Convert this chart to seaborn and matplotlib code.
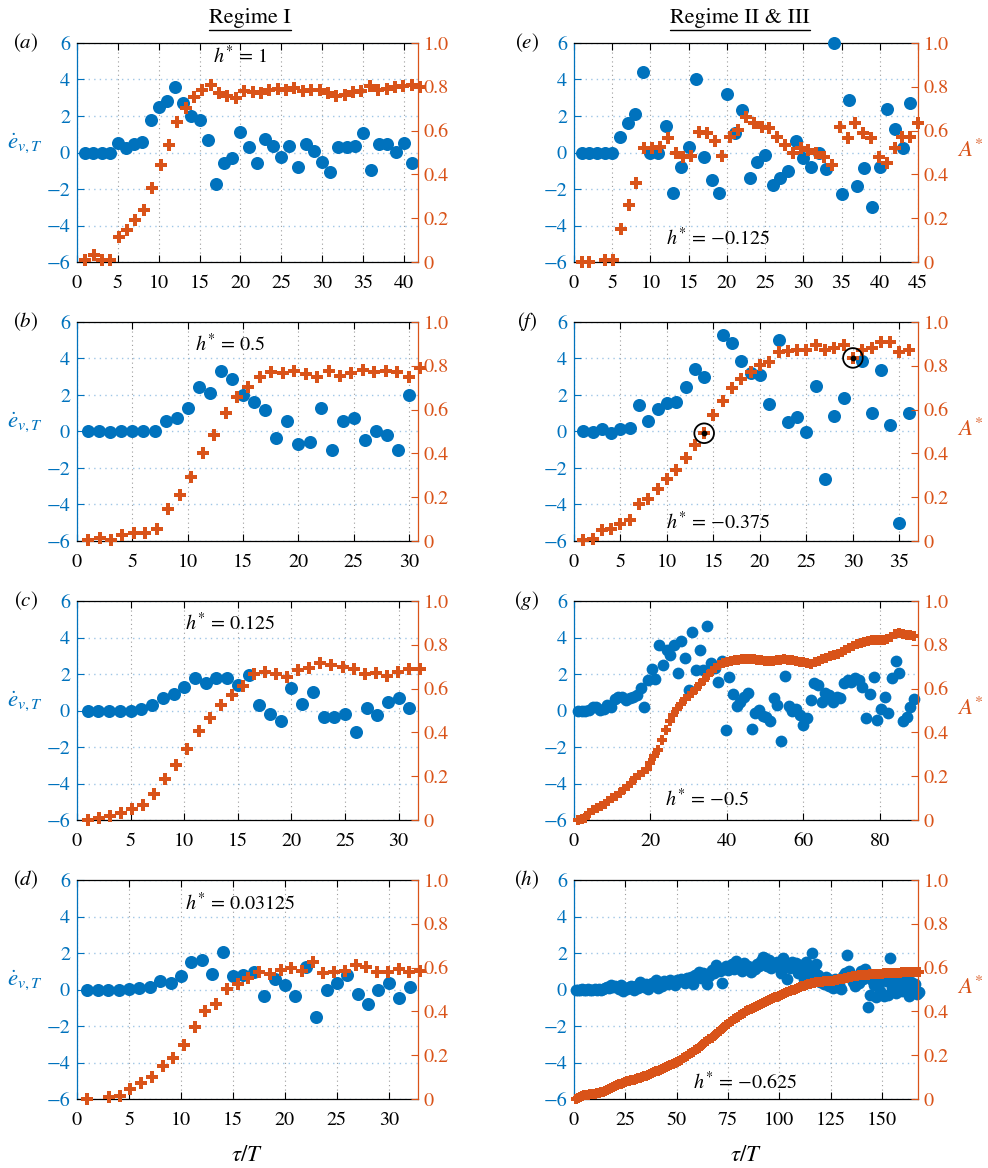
import numpy as np
import matplotlib
matplotlib.use("Agg")
import matplotlib.pyplot as plt
from matplotlib.lines import Line2D
import seaborn as sns

BLUE = "#0072BD"
ORANGE = "#D95319"
nan = np.nan

# ---------------- data: energy-rate (blue) and amplitude A* (orange) ----------------
# (a) h* = 1
edot_a = [0, 0, -0.05, 0, 0.5, 0.25, 0.45, 0.6, 1.8, 2.5,
          2.8, 3.6, 2.7, 2.0, 1.8, 0.7, -1.7, -0.55, -0.3, 1.1,
          0.3, -0.6, 0.75, 0.35, -0.25, 0.35, -0.8, 0.45, 0.1, -0.5,
          -1.05, 0.3, 0.3, 0.35, 1.05, -0.95, 0.45, 0.45, 0.05, 0.5, -0.6]
A_a = [0.01, 0.033, 0.01, 0.01, 0.114, 0.148, 0.193, 0.239, 0.338, 0.443,
       0.536, 0.638, 0.703, 0.752, 0.787, 0.81, 0.772, 0.756, 0.749, 0.779,
       0.775, 0.772, 0.787, 0.79, 0.784, 0.795, 0.779, 0.784, 0.784, 0.772,
       0.756, 0.764, 0.775, 0.779, 0.802, 0.784, 0.79, 0.80, 0.802, 0.81, 0.80]
tau_a = np.arange(1, len(edot_a) + 1)
tauA_a = np.linspace(1, 42, len(A_a))

# (b) h* = 0.5
edot_b = [0, 0, -0.03, 0, 0, 0, 0.03, 0.55, 0.72, 1.27,
          2.42, 2.09, 3.31, 2.85, 2.0, 1.64, 1.18, -0.36, 0.55, -0.67,
          -0.6, 1.31, -1.0, 0.55, 0.76, -0.49, 0.04, -0.18, -1.0, 2.0]
A_b = [0.005, 0.015, 0.005, 0.026, 0.038, 0.038, 0.053, 0.144, 0.208, 0.291,
       0.40, 0.485, 0.583, 0.659, 0.705, 0.747, 0.773, 0.765, 0.777, 0.762,
       0.747, 0.777, 0.755, 0.768, 0.783, 0.773, 0.777, 0.773, 0.747, 0.788]
tau_b = np.arange(1, len(edot_b) + 1)
tauA_b = np.linspace(1, 31, len(A_b))

# (c) h* = 0.125
edot_c = [0, 0, -0.03, 0, 0, 0.07, 0.3, 0.67, 0.9, 1.3,
          1.76, 1.53, 1.76, 1.76, 1.4, 1.95, 0.3, -0.2, -0.6, 1.22,
          0.35, 1.04, -0.33, -0.33, -0.18, -1.2, 0.16, -0.27, 0.44, 0.67, 0.13]
A_c = [0.0, 0.01, 0.018, 0.033, 0.05, 0.07, 0.117, 0.185, 0.253, 0.326,
       0.405, 0.465, 0.526, 0.571, 0.612, 0.667, 0.677, 0.667, 0.652, 0.685,
       0.692, 0.715, 0.708, 0.697, 0.689, 0.665, 0.67, 0.658, 0.677, 0.688, 0.689]
tau_c = np.arange(1, len(edot_c) + 1)
tauA_c = np.linspace(1, 32, len(A_c))

# (d) h* = 0.03125
edot_d = [0, 0, 0, 0, 0.02, 0.07, 0.13, 0.44, 0.38, 0.75,
          1.53, 1.62, 0.86, 2.04, 0.75, 0.8, 0.98, -0.35, 0.57, 0.26,
          -0.33, 1.26, -1.51, -0.05, 0.38, 0.8, -0.24, -0.78, 0, 0.35, -0.44, 0.13]
A_d = [0.0, nan, 0.009, 0.015, 0.046, 0.073, 0.099, 0.152, 0.187, 0.245,
       0.331, 0.40, 0.435, 0.503, 0.526, 0.552, 0.582, 0.57, 0.59, 0.60,
       0.585, 0.625, 0.574, 0.578, 0.585, 0.612, 0.605, 0.582, 0.582, 0.593, 0.582, 0.585]
tau_d = np.arange(1, len(edot_d) + 1)
tauA_d = np.linspace(1, 33, len(A_d))

# (e) h* = -0.125
edot_e = [0, 0, 0, 0, 0, 0.87, 1.6, 2.1, 4.4, 0,
          0, 1.45, -2.2, -0.8, 0.28, 4.0, -0.27, -1.5, -2.2, 3.2,
          1.08, 2.32, -1.4, -0.5, -0.14, -1.78, -1.41, -1.0, 0.65, -0.32,
          -0.8, 0, -0.92, 6.0, -2.27, 2.9, -1.84, -0.87, -3.0, -0.77,
          2.38, 1.27, 0.23, 2.72]
A_e = [0.0, 0.0, nan, 0.01, 0.01, 0.15, 0.26, 0.363, 0.519, 0.519,
       0.524, 0.565, 0.50, 0.481, 0.484, 0.595, 0.59, 0.554, 0.484, 0.572,
       0.605, 0.66, 0.633, 0.618, 0.61, 0.569, 0.534, 0.50, 0.519, 0.51,
       0.50, 0.479, 0.444, 0.618, 0.565, 0.633, 0.59, 0.565, 0.478, 0.45,
       0.519, 0.569, 0.572, 0.636]
tau_e = np.arange(1, len(edot_e) + 1)
tauA_e = np.linspace(1, 45, len(A_e))

# (f) h* = -0.375
edot_f = [0, -0.05, 0.13, -0.09, 0.13, 0.18, 1.45, 0.6, 1.22, 1.55,
          1.64, 2.42, 3.4, 2.96, nan, 5.27, 4.85, 3.87, 3.2, 3.1,
          1.5, 5.04, 0.5, 0.82, -0.05, 2.5, -2.6, 0.85, 1.82, nan,
          3.85, 1.0, 3.36, 0.33, -5.0, 1.0]
A_f = [0.005, 0.01, 0.05, 0.053, 0.076, 0.095, 0.171, 0.192, 0.238, 0.283,
       0.326, 0.379, 0.439, 0.492, 0.576, 0.641, 0.697, 0.738, 0.773, 0.803,
       0.818, 0.864, 0.868, 0.871, 0.871, 0.894, 0.871, 0.879, 0.894, 0.836,
       0.871, 0.883, 0.909, 0.909, 0.864, 0.874]
tau_f = np.arange(1, len(edot_f) + 1)
tauA_f = np.arange(1, len(A_f) + 1)
circled_f = [14, 30]   # tau/T of the highlighted amplitude samples

# (g) h* = -0.5
edot_g = [-0.05, 0, -0.05, 0.04, 0.2, 0.18, 0.04, 0.07, 0.3, 0.18,
          0.62, 0.73, 0.76, 0.55, 0.67, 0.73, 0.85, 1.22, 0.18, 1.67,
          2.25, 1.7, 3.58, 2.49, 3.3, 3.04, 3.58, 2.04, 3.82, 2.85,
          1.13, 4.3, 2.22, 3.3, 2.22, 4.62, 2.58, 2.31, 1.58, 2.73,
          -1.05, 1.82, 0.91, 0.22, 0.49, 0.73, 0.95, -1.02, -0.15, 0.04,
          -0.29, -0.33, -0.6, 0.67, 0.31, -1.69, 1.89, 0.25, -0.05, 0.07,
          -0.24, -0.78, -0.42, 0.58, 1.49, 1.4, 0.44, 0.95, 0.85, 0.49,
          0.76, 0.67, 1.49, 1.67, 1.58, 1.76, 1.67, 1.31, -0.42, 0.91,
          1.85, -0.51, 0.07, 0.76, -0.15, 1.76, 2.73, 2.07, -0.6, -0.33,
          0.18, 0.62]
A_g = [0.0, 0.005, 0.01, 0.03, 0.045, 0.055, 0.065, 0.075, 0.085, 0.1,
       0.11, 0.125, 0.14, 0.155, 0.17, 0.19, 0.205, 0.22, 0.235, 0.26,
       0.29, 0.32, 0.365, 0.41, 0.45, 0.48, 0.508, 0.53, 0.553, 0.568,
       0.58, 0.6, 0.62, 0.64, 0.66, 0.68, 0.695, 0.706, 0.715, 0.722,
       0.727, 0.73, 0.732, 0.733, 0.735, 0.736, 0.735, 0.732, 0.73, 0.728,
       0.727, 0.728, 0.73, 0.732, 0.733, 0.732, 0.73, 0.727, 0.723, 0.72,
       0.715, 0.712, 0.72, 0.728, 0.735, 0.742, 0.748, 0.754, 0.76, 0.768,
       0.777, 0.786, 0.795, 0.802, 0.808, 0.813, 0.818, 0.82, 0.822, 0.823,
       0.824, 0.826, 0.835, 0.85, 0.853, 0.848, 0.845, 0.843, 0.842]
tau_g = np.linspace(1, 89, len(edot_g))
tauA_g = np.arange(1, len(A_g) + 1)

# (h) h* = -0.625
edot_h = [0.0, 0.0, -0.05, 0.02, 0.0, -0.03, 0.05, 0.0, -0.02, 0.03,
          0.0, 0.04, -0.05, 0.02, 0.08, 0.15, 0.1, 0.25, 0.12, 0.2,
          0.15, 0.05, 0.22, -0.1, 0.1, 0.05, 0.15, 0.18, -0.05, 0.2,
          0.1, 0.4, 0.25, 0.15, 0.3, 0.05, 0.2, 0.35, 0.3, 0.5,
          0.1, 0.3, 0.2, 0.45, 0.35, 0.3, 0.5, 0.4, 0.25, 0.5,
          0.45, 0.6, 0.5, 0.35, 0.65, 0.55, 0.7, 0.3, 0.8, 0.75,
          0.95, 0.65, 0.9, 0.85, 0.3, 0.75, 1.05, 0.9, 1.35, 1.2,
          1.0, 0.36, 1.15, 1.3, 1.05, 1.25, 1.4, 1.1, 1.55, 1.2,
          1.3, 1.0, 1.45, 1.2, 1.3, 0.95, 1.25, 1.15, 1.4, 1.3,
          1.55, 1.8, 1.7, 1.3, 1.6, 1.2, 1.45, 1.35, 1.5, 1.25,
          0.9, 1.75, 1.4, 0.6, 1.2, 1.5, 1.3, 1.45, 0.9, 1.35,
          1.2, 0.55, 1.5, 0.75, 1.1, 2.0, 1.0, 1.4, 0.8, 0.4,
          0.6, 0.3, 0.7, 0.2, 0.45, 0.1, 0.6, 0.15, 0.3, 0.05,
          0.75, 0.9, 1.87, 1.0, 0.8, 0.4, 0.2, 0.6, 0.35, 1.0,
          0.55, 1.15, -0.95, -0.3, 0.5, 0.25, -0.4, 0.3, -0.1, 0.6,
          -0.35, 0.45, -0.32, 1.7, 0.1, 0.5, -0.2, 0.35, 0.15, -0.1,
          0.6, 0.2, -0.37, 0.4, -0.1, 0.3, -0.23, -0.15]
A_h = [0.0, 0.005, 0.01, 0.015, 0.018, 0.02, 0.02, 0.021, 0.022, 0.024,
       0.026, 0.028, 0.03, 0.032, 0.035, 0.04, 0.045, 0.05, 0.055, 0.06,
       0.063, 0.067, 0.07, 0.074, 0.078, 0.081, 0.083, 0.085, 0.088, 0.091,
       0.094, 0.097, 0.1, 0.103, 0.106, 0.11, 0.114, 0.118, 0.122, 0.126,
       0.13, 0.134, 0.137, 0.14, 0.145, 0.15, 0.155, 0.16, 0.165, 0.17,
       0.175, 0.18, 0.186, 0.192, 0.198, 0.204, 0.21, 0.216, 0.222, 0.228,
       0.235, 0.242, 0.25, 0.258, 0.266, 0.273, 0.28, 0.288, 0.296, 0.304,
       0.312, 0.32, 0.328, 0.336, 0.344, 0.35, 0.357, 0.364, 0.37, 0.376,
       0.382, 0.388, 0.394, 0.4, 0.405, 0.41, 0.415, 0.42, 0.425, 0.43,
       0.435, 0.44, 0.444, 0.448, 0.452, 0.456, 0.46, 0.464, 0.468, 0.472,
       0.476, 0.48, 0.484, 0.488, 0.492, 0.496, 0.5, 0.504, 0.508, 0.512,
       0.515, 0.518, 0.521, 0.524, 0.526, 0.528, 0.53, 0.532, 0.534, 0.535,
       0.536, 0.537, 0.538, 0.539, 0.54, 0.541, 0.542, 0.544, 0.546, 0.548,
       0.55, 0.552, 0.554, 0.556, 0.558, 0.56, 0.562, 0.563, 0.564, 0.565,
       0.566, 0.567, 0.568, 0.569, 0.57, 0.571, 0.572, 0.572, 0.573, 0.573,
       0.574, 0.574, 0.575, 0.575, 0.576, 0.576, 0.577, 0.577, 0.577, 0.578,
       0.578, 0.578, 0.579, 0.579, 0.579, 0.58, 0.58, 0.58]
tau_h = np.arange(1, len(edot_h) + 1)
tauA_h = np.arange(1, len(A_h) + 1)

# ---------------- styling ----------------
sns.set_theme(style="white", rc={"text.color": "black", "axes.labelcolor": "black",
                                 "xtick.color": "black", "ytick.color": "black"})
plt.rcParams["font.family"] = ["STIXGeneral", "DejaVu Serif"]
plt.rcParams["mathtext.fontset"] = "stix"
plt.rcParams["axes.unicode_minus"] = True

W, H = 988, 1168
fig = plt.figure(figsize=(W / 100, H / 100), dpi=100)
FS = 14.5


def rect(left, top, width, height):
    return [left / W, 1 - (top + height) / H, width / W, height / H]


COLS = [(77, 341), (574, 344)]
ROWS = [43, 322, 601, 880]
AXH = 219


def panel(col, row, tx, ey, ta, ay, xmax, xticks, letter, hstar, hpos,
          sb=88, so=75, circled=None):
    left, width = COLS[col]
    ax = fig.add_axes(rect(left, ROWS[row], width, AXH))
    ax2 = ax.twinx()

    sns.scatterplot(x=tx, y=ey, ax=ax, color=BLUE, marker="o", s=sb,
                    linewidth=0, legend=False, clip_on=False, zorder=3)
    sns.scatterplot(x=ta, y=ay, ax=ax2, color=ORANGE, marker="P", s=so,
                    linewidth=0, legend=False, clip_on=False, zorder=3)
    if circled is not None:
        idx = [list(ta).index(c) for c in circled]
        cx = np.asarray(ta)[idx]
        cy = np.asarray(ay)[idx]
        ax2.scatter(cx, cy, s=200, facecolors="none", edgecolors="black",
                    linewidths=1.3, zorder=5, clip_on=False)
        ax2.scatter(cx, cy, s=10, color="black", zorder=6, clip_on=False)

    ax.set_xlim(0, xmax)
    ax.set_ylim(-6, 6)
    ax2.set_ylim(0, 1)
    ax.set_xticks(xticks)
    ax.set_xticklabels([str(t) for t in xticks])
    ax.set_yticks(np.arange(-6, 7, 2))
    ax2.set_yticks(np.arange(0, 1.01, 0.2))
    ax2.set_yticklabels(["0", "0.2", "0.4", "0.6", "0.8", "1.0"])
    ax.set_xlabel("")
    ax.set_ylabel("")
    ax2.set_ylabel("")

    ax.set_axisbelow(True)
    ax.xaxis.grid(True, linestyle=(0, (1, 3)), color="#9c9c9c", linewidth=0.8)
    ax.yaxis.grid(True, linestyle=(0, (1, 3)), color="#9fc6e6", linewidth=1.0)

    for s in ["top", "bottom"]:
        ax.spines[s].set_color("black")
        ax.spines[s].set_linewidth(0.9)
    ax.spines["left"].set_color(BLUE)
    ax.spines["left"].set_linewidth(0.9)
    ax.spines["right"].set_visible(False)
    for s in ["left", "top", "bottom"]:
        ax2.spines[s].set_visible(False)
    ax2.spines["right"].set_color(ORANGE)
    ax2.spines["right"].set_linewidth(0.9)

    ax.tick_params(axis="x", direction="in", length=5, width=0.8, colors="black",
                   labelsize=FS, top=True, bottom=True, pad=9)
    ax.tick_params(axis="y", direction="in", length=5, width=0.8, colors=BLUE,
                   labelsize=FS, left=True, right=False, pad=5)
    ax2.tick_params(axis="y", direction="in", length=5, width=0.8, colors=ORANGE,
                    labelsize=FS, right=True, left=False, pad=4)

    ax.text(-0.15 if col == 0 else -0.137, 1.0, f"(${letter}$)", transform=ax.transAxes,
            ha="center", va="center", fontsize=FS + 0.5, color="black")
    ax.text(hpos[0], hpos[1], r"$h^{*}$ = " + hstar, transform=ax.transAxes,
            ha="center", va="center", fontsize=FS, color="black", zorder=10)
    if col == 0:
        ax.text(-0.152, 0.54, r"$\dot{e}_{v,T}$", transform=ax.transAxes,
                ha="center", va="center", fontsize=FS + 2, color=BLUE)
    else:
        ax.text(1.151, 0.51, r"$A^{*}$", transform=ax.transAxes,
                ha="center", va="center", fontsize=FS + 2, color=ORANGE)
    if row == 3:
        ax.text(0.5, -0.256, r"$\tau/T$", transform=ax.transAxes,
                ha="center", va="center", fontsize=FS + 2, color="black")
    return ax


panel(0, 0, tau_a, edot_a, tauA_a, A_a, 41.75, list(range(0, 41, 5)), "a", "1", (0.478, 0.94))
panel(0, 1, tau_b, edot_b, tauA_b, A_b, 30.8, list(range(0, 31, 5)), "b", "0.5", (0.449, 0.90))
panel(0, 2, tau_c, edot_c, tauA_c, A_c, 31.8, list(range(0, 31, 5)), "c", "0.125", (0.449, 0.90))
panel(0, 3, tau_d, edot_d, tauA_d, A_d, 32.8, list(range(0, 31, 5)), "d", "0.03125", (0.478, 0.895))
panel(1, 0, tau_e, edot_e, tauA_e, A_e, 45, list(range(0, 46, 5)), "e", "\u22120.125", (0.419, 0.11))
panel(1, 1, tau_f, edot_f, tauA_f, A_f, 37, list(range(0, 36, 5)), "f", "\u22120.375", (0.419, 0.087),
      circled=circled_f)
panel(1, 2, tau_g, edot_g, tauA_g, A_g, 90, list(range(0, 81, 20)), "g", "\u22120.5", (0.387, 0.096),
      sb=72, so=48)
panel(1, 3, tau_h, edot_h, tauA_h, A_h, 167.6, list(range(0, 151, 25)), "h", "\u22120.625", (0.497, 0.078),
      sb=72, so=48)

# column headings, underlined
titles = [fig.text(250 / W, 1 - 18 / H, "Regime I", ha="center", va="center", fontsize=16),
          fig.text(740 / W, 1 - 18 / H, "Regime II & III", ha="center", va="center", fontsize=16)]
fig.canvas.draw()
renderer = fig.canvas.get_renderer()
for t in titles:
    bb = t.get_window_extent(renderer)
    y = (bb.y0 - 2) / H
    fig.add_artist(Line2D([bb.x0 / W, bb.x1 / W], [y, y], transform=fig.transFigure,
                          color="black", linewidth=1.0))

fig.savefig("out.png", dpi=100)
